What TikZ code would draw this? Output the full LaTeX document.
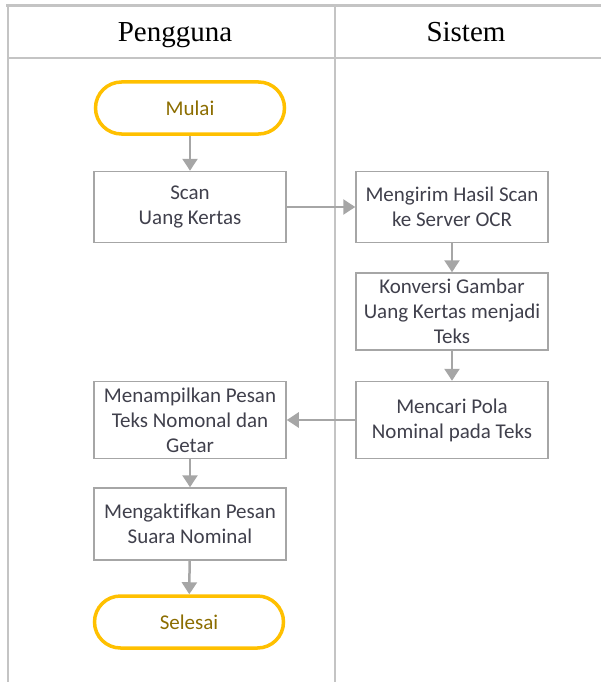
\documentclass[tikz,border=0pt]{standalone}
\usepackage{fontspec}
\setmainfont{Liberation Serif}
\newfontfamily\bodyfont[Ligatures=NoCommon]{Carlito}
\usetikzlibrary{arrows.meta}
\definecolor{linegray}{HTML}{A6A6A6}
\definecolor{framegray}{HTML}{C4C4C4}
\definecolor{termyellow}{HTML}{FFC000}
\definecolor{termtext}{HTML}{8C6D00}
\definecolor{boxtext}{HTML}{40404C}

\begin{document}
\begin{tikzpicture}
  [x=1pt,y=-1pt,
   lane/.style={draw=framegray,line width=1.5pt},
   head/.style={anchor=base,font=\fontsize{29}{32}\selectfont,text=black},
   proc/.style={draw=linegray,line width=1.5pt,fill=white,minimum width=192pt,
     inner sep=0pt,align=center,text=boxtext,
     font=\bodyfont\fontsize{21}{25}\selectfont},
   term/.style={draw=termyellow,line width=3.5pt,rounded corners=26pt,
     minimum width=189pt,minimum height=52pt,inner sep=0pt,text=termtext,
     font=\bodyfont\fontsize{21}{25}\selectfont},
   flow/.style={draw=linegray,line width=2.5pt,
     -{Triangle[width=15pt,length=12pt]}}]
  \useasboundingbox (0,0) rectangle (601,682);
  % swimlanes
  \draw[framegray,line width=3pt] (6,6) -- (601,6);
  \draw[lane] (8,58) -- (601,58);
  \draw[lane] (8,6) -- (8,682);
  \draw[lane] (335,6) -- (335,682);
  \node[head] (hUser) at (175,42) {Pengguna};
  \node[head] (hSys) at (466,42) {Sistem};

  \node[term] (mulai) at (190,108) {Mulai};
  \node[proc,minimum height=71pt] (scan) at (190,207) {Scan\\Uang Kertas};
  \node[proc,minimum height=71pt] (kirim) at (452,207) {Mengirim Hasil Scan\\ke Server OCR};
  \node[proc,minimum height=77pt] (konversi) at (452,311.5) {Konversi Gambar\\Uang Kertas menjadi\\Teks};
  \node[proc,minimum height=77pt] (cari) at (452,420) {Mencari Pola\\Nominal pada Teks};
  \node[proc,minimum height=77pt] (tampil) at (190,420) {Menampilkan Pesan\\Teks Nomonal dan\\Getar};
  \node[proc,minimum height=72pt] (aktif) at (190,524) {Mengaktifkan Pesan\\Suara Nominal};
  \node[term] (selesai) at (189,622) {Selesai};

  \foreach \from/\to in {mulai/scan,scan/kirim,kirim/konversi,konversi/cari,
      cari/tampil,tampil/aktif,aktif/selesai}
    \draw[flow] (\from) -- (\to);
\end{tikzpicture}
\end{document}
